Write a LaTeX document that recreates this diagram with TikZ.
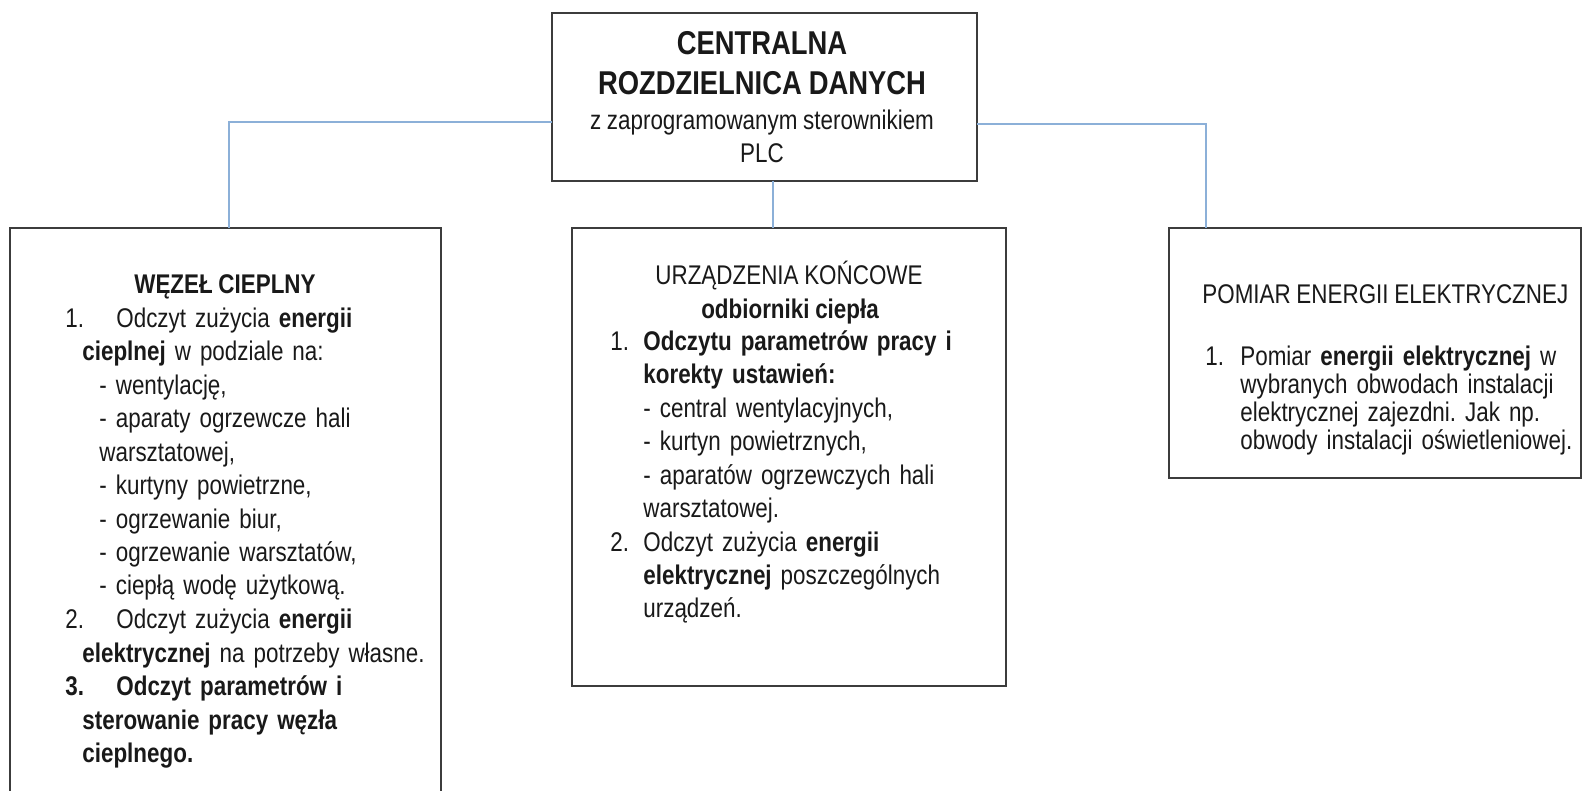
\documentclass[tikz,border=0pt]{standalone}
\usepackage{fontspec}
\setmainfont{Liberation Sans}[FakeStretch=0.83]
\definecolor{boxline}{RGB}{60,60,60}
\definecolor{connline}{RGB}{140,176,216}
\definecolor{txt}{RGB}{25,25,25}
\newcommand\myspc{\frenchspacing\spaceskip=0.21em plus 0.1em minus 0.05em\relax}
\begin{document}
\begin{tikzpicture}[x=0.5pt,y=-0.5pt,
  box/.style={draw=boxline,line width=1pt,fill=white,inner sep=0pt,outer sep=0pt},
  conn/.style={draw=connline,line width=0.8pt},
  body/.style={inner sep=0pt,anchor=base west,align=left,text width=#1,text=txt,
    font=\fontsize{13.5}{16.75}\selectfont\myspc},
  bodyr/.style={inner sep=0pt,anchor=base west,align=left,text width=#1,text=txt,
    font=\fontsize{13.5}{14}\selectfont\myspc},
  ttl/.style={inner sep=0pt,anchor=base,text=txt,font=\fontsize{13.5}{16}\selectfont\myspc}]
\useasboundingbox (0,0) rectangle (1584,791);
\clip (0,0) rectangle (1584,791);
\fill[white] (0,0) rectangle (1584,791);
% coordinates for connector bends
\coordinate (lj) at (229,122);
\coordinate (rj) at (1206,124);
\coordinate (mj) at (773,0);
% boxes
\node[box,minimum width=212.5pt,minimum height=84pt] (top) at (764.5,97) {};
\node[box,minimum width=215.5pt,minimum height=286pt] (wl) at (225.5,514) {};
\node[box,minimum width=217pt,minimum height=229pt] (uz) at (789,457) {};
\node[box,minimum width=206pt,minimum height=125pt] (pe) at (1375,353) {};
% connectors
\draw[conn] (top.west |- lj) -- (lj) -- (lj |- wl.north);
\draw[conn] (top.east |- rj) -- (rj) -- (rj |- pe.north);
\draw[conn] (top.south -| mj) -- (mj |- uz.north);
% top box text
\node[ttl,font=\fontsize{16.5}{20}\selectfont\bfseries\myspc] (t1) at (762,55) {CENTRALNA};
\node[ttl,font=\fontsize{16.5}{20}\selectfont\bfseries\myspc] (t2) at (762,95) {ROZDZIELNICA DANYCH};
\node[ttl] (t3) at (762,130) {z zaprogramowanym sterownikiem};
\node[ttl] (t4) at (762,163) {PLC};
% left box text
\node[ttl,font=\fontsize{13.5}{16}\selectfont\bfseries\myspc] (wt) at (225,293) {WĘZEŁ CIEPLNY};
\node[body=200pt] (wb) at (65,327) {%
\makebox[25.5pt][l]{1.}Odczyt zużycia \textbf{energii}\\
\hspace*{8.5pt}\textbf{cieplnej} w podziale na:\\
\hspace*{17pt}- wentylację,\\
\hspace*{17pt}- aparaty ogrzewcze hali\\
\hspace*{17pt}warsztatowej,\\
\hspace*{17pt}- kurtyny powietrzne,\\
\hspace*{17pt}- ogrzewanie biur,\\
\hspace*{17pt}- ogrzewanie warsztatów,\\
\hspace*{17pt}- ciepłą wodę użytkową.\\
\makebox[25.5pt][l]{2.}Odczyt zużycia \textbf{energii}\\
\hspace*{8.5pt}\textbf{elektrycznej} na potrzeby własne.\\
\textbf{\makebox[25.5pt][l]{3.}Odczyt parametrów i}\\
\hspace*{8.5pt}\textbf{sterowanie pracy węzła}\\
\hspace*{8.5pt}\textbf{cieplnego.}};
% middle box text
\node[ttl] (ut1) at (789,285) {URZĄDZENIA KOŃCOWE};
\node[ttl,font=\fontsize{13.5}{16}\selectfont\bfseries\myspc] (ut2) at (790,318) {odbiorniki ciepła};
\node[body=200pt] (ub) at (610,350) {%
\makebox[16.5pt][l]{1.}\textbf{Odczytu parametrów pracy i}\\
\hspace*{16.5pt}\textbf{korekty ustawień:}\\
\hspace*{16.5pt}- central wentylacyjnych,\\
\hspace*{16.5pt}- kurtyn powietrznych,\\
\hspace*{16.5pt}- aparatów ogrzewczych hali\\
\hspace*{16.5pt}warsztatowej.\\
\makebox[16.5pt][l]{2.}Odczyt zużycia \textbf{energii}\\
\hspace*{16.5pt}\textbf{elektrycznej} poszczególnych\\
\hspace*{16.5pt}urządzeń.};
% right box text
\node[inner sep=0pt,anchor=base west,text=txt,font=\fontsize{13.5}{16}\selectfont\myspc] (pt) at (1202,303) {POMIAR ENERGII ELEKTRYCZNEJ};
\node[bodyr=190pt] (pb) at (1205,365) {%
\makebox[17.5pt][l]{1.}Pomiar \textbf{energii elektrycznej} w\\
\hspace*{17.5pt}wybranych obwodach instalacji\\
\hspace*{17.5pt}elektrycznej zajezdni. Jak np.\\
\hspace*{17.5pt}obwody instalacji oświetleniowej.};
\end{tikzpicture}
\end{document}
